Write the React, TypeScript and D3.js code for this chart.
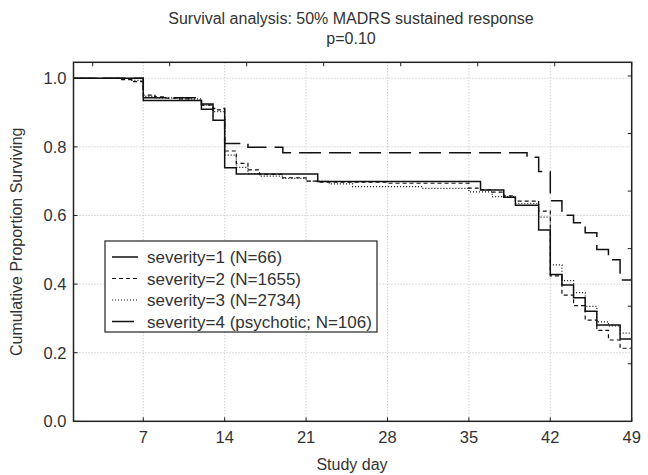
import React from "react";
import * as d3 from "d3";

const W = 648;
const H = 475;

const titleLines = ["Survival analysis: 50% MADRS sustained response", "p=0.10"];
const xLabel = "Study day";
const yLabel = "Cumulative Proportion Surviving";

const xTicks = [7, 14, 21, 28, 35, 42, 49];
const yTicks = [0, 0.2, 0.4, 0.6, 0.8, 1.0];
const xGrid = [7, 14, 21, 28, 35, 42];
const yGrid = [0.2, 0.4, 0.6, 0.8, 1.0];
// mirror ticks on top/right follow their own spacing in the reference
const topTicks = [2.65, 9.27, 15.89, 22.51, 29.14, 35.76, 42.38, 49];
const rightTicks = [0.1678, 0.3356, 0.5034, 0.6711, 0.8389, 1.0067];

const seriesNames = [
  "severity=1 (N=66)",
  "severity=2 (N=1655)",
  "severity=3 (N=2734)",
  "severity=4 (psychotic; N=106)",
];

const sev1Days = [1, 7, 12, 13, 14, 15, 22, 36, 38, 39, 41, 42, 43, 44, 45, 46, 48, 49];
const sev1Surv = [1, 0.935, 0.91, 0.878, 0.739, 0.721, 0.699, 0.674, 0.653, 0.63, 0.558, 0.428, 0.397, 0.36, 0.321, 0.281, 0.24, 0.24];

const sev2Days = [1, 5, 6, 7, 8, 9, 10, 11, 12, 13, 14, 15, 16, 17, 19, 21, 22, 28, 35, 36, 37, 38, 39, 41, 42, 43, 44, 45, 46, 47, 48, 49];
const sev2Surv = [1, 0.996, 0.99, 0.951, 0.946, 0.942, 0.94, 0.936, 0.922, 0.908, 0.788, 0.752, 0.733, 0.72, 0.71, 0.7, 0.697, 0.694, 0.68, 0.675, 0.668, 0.657, 0.642, 0.613, 0.424, 0.368, 0.337, 0.295, 0.265, 0.237, 0.213, 0.213];

const sev3Days = [1, 6, 7, 8, 10, 12, 13, 14, 15, 16, 17, 19, 21, 23, 25, 31, 35, 37, 39, 41, 42, 43, 44, 45, 46, 47, 48, 49];
const sev3Surv = [1, 0.994, 0.947, 0.943, 0.94, 0.922, 0.903, 0.776, 0.74, 0.722, 0.715, 0.708, 0.7, 0.692, 0.684, 0.679, 0.669, 0.655, 0.635, 0.595, 0.456, 0.41, 0.375, 0.335, 0.29, 0.278, 0.257, 0.257];

const sev4Days = [1, 7, 12, 13, 14, 16, 19, 40, 41, 42, 43, 44, 45, 46, 47, 48, 49];
const sev4Surv = [1, 0.943, 0.925, 0.912, 0.81, 0.799, 0.783, 0.77, 0.728, 0.643, 0.601, 0.579, 0.55, 0.501, 0.471, 0.412, 0.412];

const FONT = "'Liberation Sans', Arial, sans-serif";
const TEXT = "#333";

export default function App() {
  const left = 73.5;
  const right = 631.7;
  const top = 62.3;
  const bottom = 421.3;

  const x = d3.scaleLinear().domain([1, 49]).range([left, right]);
  const y = d3.scaleLinear().domain([0, 1.0466]).range([bottom, top]);

  const line = d3
    .line<[number, number]>()
    .x((d) => x(d[0]))
    .y((d) => y(d[1]))
    .curve(d3.curveStepAfter);

  const series = [
    { days: sev1Days, surv: sev1Surv, dash: "none", width: 1.5, legLen: 26 },
    { days: sev2Days, surv: sev2Surv, dash: "4,3", width: 1.2, legLen: 26 },
    { days: sev3Days, surv: sev3Surv, dash: "1,2", width: 1.2, legLen: 26 },
    { days: sev4Days, surv: sev4Surv, dash: "22,8", width: 1.5, legLen: 22 },
  ];

  const fmt = d3.format(".1f");

  const legX = 105;
  const legY = 241;
  const legW = 272;
  const legRow = 21.5;

  return (
    <svg
      width={W}
      height={H}
      style={{ position: "absolute", left: 0, top: 0, background: "#fff" }}
      fontFamily={FONT}
    >
      <rect x={0} y={0} width={W} height={H} fill="#fff" />
      {/* title */}
      {titleLines.map((t, i) => (
        <text key={i} x={351} y={23.5 + i * 20} textAnchor="middle" fontSize={16} fill={TEXT}>
          {t}
        </text>
      ))}
      {/* grid */}
      {xGrid.map((d) => (
        <line key={"gx" + d} x1={x(d)} x2={x(d)} y1={top} y2={bottom} stroke="#bbb" strokeWidth={1} strokeDasharray="1,2" />
      ))}
      {yGrid.map((v) => (
        <line key={"gy" + v} x1={left} x2={right} y1={y(v)} y2={y(v)} stroke="#bbb" strokeWidth={1} strokeDasharray="1,2" />
      ))}
      {/* curves */}
      {series.map((s, i) => (
        <path
          key={"s" + i}
          d={line(s.days.map((d, j) => [d, s.surv[j]] as [number, number])) || ""}
          fill="none"
          stroke="#111"
          strokeWidth={s.width}
          strokeDasharray={s.dash}
        />
      ))}
      {/* frame */}
      <rect x={left} y={top} width={right - left} height={bottom - top} fill="none" stroke="#222" strokeWidth={1.5} />
      {/* bottom ticks */}
      {xTicks.map((d) => (
        <g key={"xt" + d}>
          <line x1={x(d)} x2={x(d)} y1={bottom} y2={bottom - 4} stroke="#222" />
          <text x={x(d)} y={bottom + 22} textAnchor="middle" fontSize={16.5} fill={TEXT}>
            {d}
          </text>
        </g>
      ))}
      {yTicks.map((v) => (
        <g key={"yt" + v}>
          <line x1={left} x2={left + 4} y1={y(v)} y2={y(v)} stroke="#222" />
          <text x={left - 7} y={y(v) + 6} textAnchor="end" fontSize={16.5} fill={TEXT}>
            {fmt(v)}
          </text>
        </g>
      ))}
      {topTicks.map((d, i) => (
        <line key={"tt" + i} x1={x(d)} x2={x(d)} y1={top} y2={top + 4} stroke="#222" />
      ))}
      {rightTicks.map((v, i) => (
        <line key={"rt" + i} x1={right} x2={right - 4} y1={y(v)} y2={y(v)} stroke="#222" />
      ))}
      {/* axis labels */}
      <text x={352} y={470} textAnchor="middle" fontSize={16} fill={TEXT}>
        {xLabel}
      </text>
      <text
        transform={`translate(22, ${(top + bottom) / 2}) rotate(-90)`}
        textAnchor="middle"
        fontSize={16}
        fill={TEXT}
      >
        {yLabel}
      </text>
      {/* legend */}
      <rect x={legX} y={legY} width={legW} height={91} fill="#fff" stroke="#222" strokeWidth={1.2} />
      {series.map((s, i) => {
        const ly = legY + 16 + i * legRow;
        return (
          <g key={"lg" + i}>
            <line x1={legX + 7} x2={legX + 7 + s.legLen} y1={ly} y2={ly} stroke="#111" strokeWidth={s.width} strokeDasharray={s.dash} />
            <text x={legX + 42} y={ly + 6} fontSize={17} fill={TEXT}>
              {seriesNames[i]}
            </text>
          </g>
        );
      })}
    </svg>
  );
}
